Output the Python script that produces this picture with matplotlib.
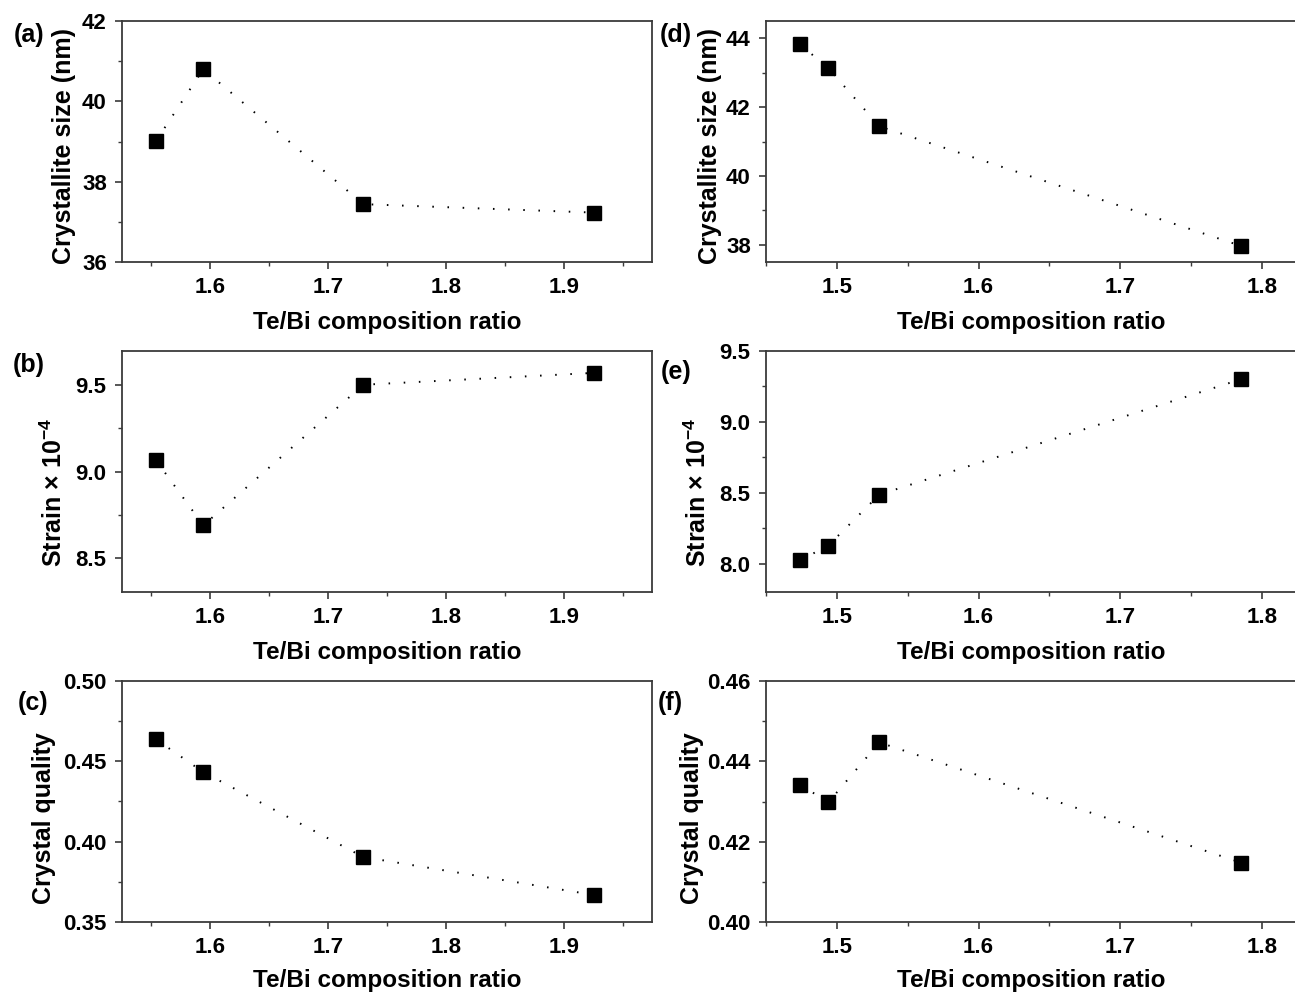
import matplotlib
matplotlib.use("Agg")
import matplotlib.pyplot as plt
from matplotlib.ticker import MultipleLocator, FormatStrFormatter

plt.rcParams['font.family'] = ['Liberation Sans', 'DejaVu Sans']
plt.rcParams['font.weight'] = 'bold'
plt.rcParams['mathtext.fontset'] = 'custom'
plt.rcParams['mathtext.rm'] = 'Liberation Sans'
plt.rcParams['mathtext.bf'] = 'Liberation Sans:bold'

# ---- data ----
x_left = [1.554, 1.594, 1.730, 1.926]
size_left = [39.02, 40.80, 37.44, 37.23]
strain_left = [9.064, 8.687, 9.504, 9.573]
quality_left = [0.4636, 0.4433, 0.3904, 0.3668]

x_right = [1.474, 1.494, 1.530, 1.785]
size_right = [43.82, 43.13, 41.44, 37.97]
strain_right = [8.023, 8.128, 8.487, 9.30]
quality_right = [0.4342, 0.4298, 0.4447, 0.4148]

xlabel_text = "Te/Bi composition ratio"
ylabels = ["Crystallite size (nm)", "Strain $\\times$ 10$^{\\mathbf{-4}}$", "Crystal quality"]
panel_letters = [["(a)", "(b)", "(c)"], ["(d)", "(e)", "(f)"]]

W, H = 1295, 994
fig = plt.figure(figsize=(W / 100, H / 100), dpi=100)

rows_px = [(21, 262), (351, 592), (681, 922)]
cols_px = [(122, 652), (766, 1296)]

def px_axes(l, r, t, b):
    return fig.add_axes([l / W, 1 - b / H, (r - l) / W, (b - t) / H])

panels = [
    [(x_left, size_left, (36, 42), 2, 1, '%d'),
     (x_left, strain_left, (8.3, 9.7), 0.5, 0.25, '%.1f'),
     (x_left, quality_left, (0.35, 0.50), 0.05, 0.025, '%.2f')],
    [(x_right, size_right, (37.5, 44.5), 2, 1, '%d'),
     (x_right, strain_right, (7.8, 9.5), 0.5, 0.25, '%.1f'),
     (x_right, quality_right, (0.40, 0.46), 0.02, 0.01, '%.2f')],
]
xlims = [(1.525, 1.975), (1.45, 1.824)]

ylabel_px = [[64, 54, 44], [710, 698, 692]]
ylabel_cy = [[146, 492, 818], [146, 492, 818]]
xlabel_py = [322, 652, 980]
letter_pos = [[(29, 35), (29, 365), (33, 703)], [(676, 35), (676, 372), (670, 703)]]

spine_color = '#3a3a3a'
for c in range(2):
    l, r = cols_px[c]
    for rr in range(3):
        t, b = rows_px[rr]
        ax = px_axes(l, r, t, b)
        xs, ys, ylim, major, minor, fmt = panels[c][rr]
        ax.plot(xs, ys, color='black', linestyle=(0, (0.8, 7)), linewidth=1.4,
                marker='s', markersize=10.5, markerfacecolor='black',
                markeredgecolor='black')
        ax.set_xlim(*xlims[c])
        ax.set_ylim(*ylim)
        ax.xaxis.set_major_locator(MultipleLocator(0.1))
        ax.xaxis.set_minor_locator(MultipleLocator(0.05))
        ax.yaxis.set_major_locator(MultipleLocator(major))
        ax.yaxis.set_minor_locator(MultipleLocator(minor))
        ax.xaxis.set_major_formatter(FormatStrFormatter('%.1f'))
        ax.yaxis.set_major_formatter(FormatStrFormatter(fmt))
        for s in ax.spines.values():
            s.set_color(spine_color)
            s.set_linewidth(1.3)
        ax.tick_params(which='both', direction='out', color=spine_color,
                       top=False, right=False, labelsize=16)
        ax.tick_params(which='major', length=5, width=1.2, pad=6)
        ax.tick_params(which='minor', length=3, width=1.0)
        for lab in ax.get_xticklabels() + ax.get_yticklabels():
            lab.set_fontweight('bold')

        ax.set_xlabel(xlabel_text, fontsize=17.5, fontweight='bold')
        ax.xaxis.label.set_va('center')
        ax.xaxis.set_label_coords(0.5, (b - xlabel_py[rr]) / (b - t))

        ax.set_ylabel(ylabels[rr], fontsize=18, fontweight='bold')
        ax.yaxis.label.set_va('center')
        ax.yaxis.label.set_ha('center')
        ax.yaxis.set_label_coords((ylabel_px[c][rr] - l) / (r - l),
                                  (b - ylabel_cy[c][rr]) / (b - t))

        lx, ly = letter_pos[c][rr]
        fig.text(lx / W, 1 - ly / H, panel_letters[c][rr], fontsize=18,
                 fontweight='bold', ha='center', va='center')

fig.savefig("out.png", dpi=100)
